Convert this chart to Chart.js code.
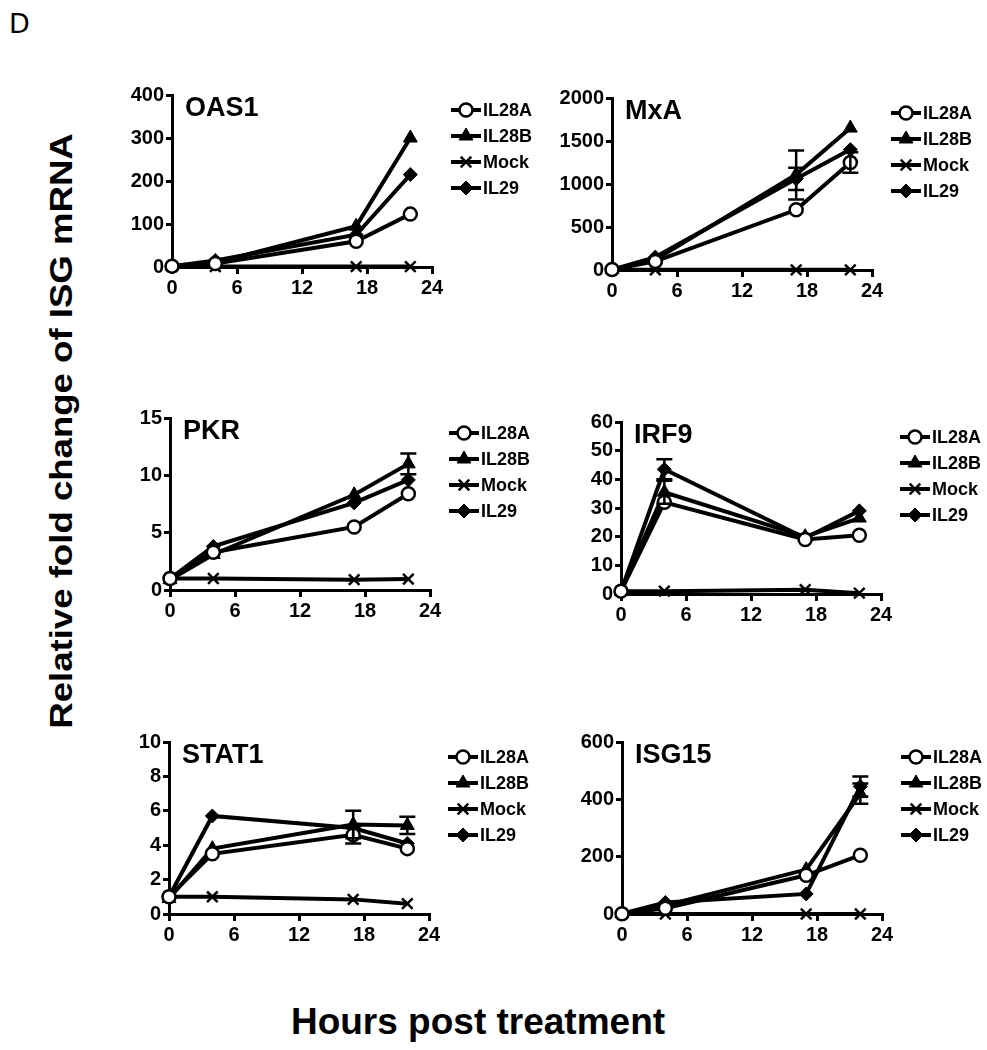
<!DOCTYPE html>
<html lang="en">
<head>
    <meta charset="UTF-8">
    <title>Relative fold change of ISG mRNA</title>
    <style>
        body {
            margin: 0;
            padding: 0;
            background: #ffffff;
            width: 987px;
            height: 1050px;
            position: relative;
            overflow: hidden;
            font-family: 'Liberation Sans', Arial, sans-serif;
            color: #000;
        }

        .panel {
            position: absolute;
            width: 420px;
            height: 222px;
        }

        .panel-letter {
            position: absolute;
            left: 9px;
            top: 8px;
            font-family: 'DejaVu Sans', sans-serif;
            font-size: 27px;
        }

        /* the original lettering is a bit stretched along the text */
        .y-title {
            position: absolute;
            left: 62px;
            top: 431px;
            transform: translate(-50%, -50%) rotate(-90deg) scaleX(1.18);
            white-space: nowrap;
            font-weight: bold;
            font-size: 31px;
        }

        .x-title {
            position: absolute;
            left: 478px;
            top: 1022px;
            transform: translate(-50%, -50%);
            white-space: nowrap;
            font-weight: bold;
            font-size: 37px;
        }
    </style>
</head>
<body>

<div class="panel-letter">D</div>
<div class="y-title">Relative fold change of ISG mRNA</div>
<div class="x-title">Hours post treatment</div>

<div class="panel" style="left:120px; top:80px;"><canvas id="oas1" width="420" height="222"></canvas></div>
<div class="panel" style="left:560px; top:83px;"><canvas id="mxa" width="420" height="222"></canvas></div>
<div class="panel" style="left:118px; top:403px;"><canvas id="pkr" width="420" height="222"></canvas></div>
<div class="panel" style="left:569px; top:407px;"><canvas id="irf9" width="420" height="222"></canvas></div>
<div class="panel" style="left:117px; top:727px;"><canvas id="stat1" width="420" height="222"></canvas></div>
<div class="panel" style="left:570px; top:727px;"><canvas id="isg15" width="420" height="222"></canvas></div>

<script src="https://cdn.jsdelivr.net/npm/chart.js"></script>

<script>
    // Time points (hours) and x ticks
    const hours = [0, 4, 17, 22];
    const xTicks = [0, 6, 12, 18, 24];
    const seriesNames = ['IL28A', 'IL28B', 'Mock', 'IL29'];

    // OAS1
    const oas1IL28A = [2, 8, 60, 123];
    const oas1IL28B = [2, 10, 95, 300];
    const oas1Mock = [1, 1, 1, 1];
    const oas1IL29 = [2, 15, 75, 215];
    const oas1Errors = [];

    // MxA
    const mxaIL28A = [5, 100, 700, 1250];
    const mxaIL28B = [5, 120, 1110, 1650];
    const mxaMock = [2, 2, 2, 2];
    const mxaIL29 = [5, 150, 1060, 1400];
    // [series, hour, low, high]
    const mxaErrors = [[1, 17, 820, 1390], [3, 17, 930, 1190], [0, 22, 1130, 1370]];

    // PKR
    const pkrIL28A = [1, 3.3, 5.5, 8.4];
    const pkrIL28B = [0.9, 3.1, 8.3, 11];
    const pkrMock = [1, 1, 0.9, 0.95];
    const pkrIL29 = [1, 3.8, 7.6, 9.6];
    const pkrErrors = [[1, 22, 10.1, 11.9]];

    // IRF9
    const irf9IL28A = [1, 32, 19, 20.5];
    const irf9IL28B = [1, 35.5, 20, 26.5];
    const irf9Mock = [1, 1, 1.5, 0.3];
    const irf9IL29 = [1, 43.5, 19.5, 29];
    const irf9Errors = [[3, 4, 40, 47], [1, 4, 31.5, 39.5]];

    // STAT1
    const stat1IL28A = [1, 3.5, 4.6, 3.8];
    const stat1IL28B = [0.9, 3.8, 5.2, 5.15];
    const stat1Mock = [1, 1, 0.85, 0.6];
    const stat1IL29 = [1, 5.7, 5.0, 4.1];
    const stat1Errors = [[1, 17, 4.4, 6.0], [0, 17, 4.1, 5.1], [1, 22, 4.65, 5.65]];

    // ISG15
    const isg15IL28A = [1, 20, 135, 205];
    const isg15IL28B = [1, 30, 155, 420];
    const isg15Mock = [0, 0, 0, 0];
    const isg15IL29 = [1, 40, 70, 445];
    const isg15Errors = [[3, 22, 410, 480], [1, 22, 385, 455]];

    const FONT = "'Liberation Sans', Arial, sans-serif";
    Chart.defaults.font.family = FONT;
    Chart.defaults.color = '#000';

    // Marker styles for each series
    const markerStyles = [
        { pointStyle: 'circle', radius: 6.5, fill: '#fff', border: 2.5 },
        { pointStyle: 'triangle', radius: 8, fill: '#000', border: 1 },
        { pointStyle: 'crossRot', radius: 7.5, fill: '#000', border: 2.5 },
        { pointStyle: 'rectRot', radius: 7, fill: '#000', border: 1 }
    ];

    // Legend drawn to the right of the plot: line with marker and label
    const legendPlugin = {
        id: 'sideLegend',
        afterDraw(chart) {
            const ctx = chart.ctx;
            const area = chart.chartArea;
            const lx = area.right + 19;
            const rows = [15, 41, 67, 93];
            ctx.save();
            seriesNames.forEach((name, i) => {
                const y = area.top + rows[i];
                const m = markerStyles[i];
                ctx.strokeStyle = '#000';
                ctx.lineWidth = 4;
                ctx.beginPath();
                ctx.moveTo(lx, y);
                ctx.lineTo(lx + 30, y);
                ctx.stroke();
                ctx.fillStyle = m.fill;
                ctx.lineWidth = m.border;
                Chart.helpers.drawPoint(ctx, { pointStyle: m.pointStyle, radius: m.radius, borderWidth: m.border }, lx + 15, y);
                ctx.fillStyle = '#000';
                ctx.font = 'bold 18px ' + FONT;
                ctx.textBaseline = 'middle';
                ctx.textAlign = 'left';
                ctx.fillText(name, lx + 32, y + 1);
            });
            ctx.restore();
        }
    };

    // Gene name inside the plot, top left
    const titlePlugin = {
        id: 'innerTitle',
        afterDraw(chart) {
            const ctx = chart.ctx;
            const area = chart.chartArea;
            ctx.save();
            ctx.fillStyle = '#000';
            ctx.font = 'bold 27px ' + FONT;
            ctx.textBaseline = 'middle';
            ctx.fillText(chart.options.plugins.innerTitle.text, area.left + 13, area.top + 14);
            ctx.restore();
        }
    };

    // Error bars (mean +/- SEM) with caps
    const errorBarPlugin = {
        id: 'errorBars',
        afterDatasetsDraw(chart) {
            const ctx = chart.ctx;
            const errs = chart.options.plugins.errorBars.list;
            const xs = chart.scales.x, ys = chart.scales.y;
            ctx.save();
            ctx.strokeStyle = '#000';
            ctx.lineWidth = 2.5;
            errs.forEach(e => {
                const px = xs.getPixelForValue(e[1]);
                const lo = ys.getPixelForValue(e[2]);
                const hi = ys.getPixelForValue(e[3]);
                ctx.beginPath();
                ctx.moveTo(px, lo);
                ctx.lineTo(px, hi);
                ctx.moveTo(px - 8, lo);
                ctx.lineTo(px + 8, lo);
                ctx.moveTo(px - 8, hi);
                ctx.lineTo(px + 8, hi);
                ctx.stroke();
            });
            ctx.restore();
        }
    };

    function makePanel(id, title, series, errors, yMax, yStep) {
        const datasets = series.map((vals, i) => {
            const m = markerStyles[i];
            return {
                label: seriesNames[i],
                data: hours.map((h, k) => ({ x: h, y: vals[k] })),
                borderColor: '#000',
                borderWidth: 4,
                pointStyle: m.pointStyle,
                pointRadius: m.radius,
                pointBackgroundColor: m.fill,
                pointBorderColor: '#000',
                pointBorderWidth: m.border,
                tension: 0,
                clip: false
            };
        });

        new Chart(document.getElementById(id), {
            type: 'line',
            data: { datasets: datasets },
            options: {
                responsive: false,
                animation: false,
                layout: { padding: { left: 0, top: 15, right: 108, bottom: 0 } },
                plugins: {
                    legend: { display: false },
                    tooltip: { enabled: false },
                    innerTitle: { text: title },
                    errorBars: { list: errors }
                },
                scales: {
                    x: {
                        type: 'linear',
                        min: 0,
                        max: 24,
                        afterBuildTicks: s => { s.ticks = xTicks.map(v => ({ value: v })); },
                        afterFit: s => { s.height = 35; },
                        ticks: { font: { size: 20, weight: 'bold' }, color: '#000', padding: 2, maxRotation: 0 },
                        grid: { drawOnChartArea: false, drawTicks: true, tickLength: 7, color: '#000', lineWidth: 3 },
                        border: { color: '#000', width: 3 }
                    },
                    y: {
                        min: 0,
                        max: yMax,
                        ticks: {
                            stepSize: yStep,
                            font: { size: 20, weight: 'bold' },
                            color: '#000',
                            padding: 2,
                            callback: v => String(v)
                        },
                        afterFit: s => { s.width = 52; },
                        grid: { drawOnChartArea: false, drawTicks: true, tickLength: 6, color: '#000', lineWidth: 3 },
                        border: { color: '#000', width: 3 }
                    }
                }
            },
            plugins: [errorBarPlugin, titlePlugin, legendPlugin]
        });
    }

    makePanel('oas1', 'OAS1', [oas1IL28A, oas1IL28B, oas1Mock, oas1IL29], oas1Errors, 400, 100);
    makePanel('mxa', 'MxA', [mxaIL28A, mxaIL28B, mxaMock, mxaIL29], mxaErrors, 2000, 500);
    makePanel('pkr', 'PKR', [pkrIL28A, pkrIL28B, pkrMock, pkrIL29], pkrErrors, 15, 5);
    makePanel('irf9', 'IRF9', [irf9IL28A, irf9IL28B, irf9Mock, irf9IL29], irf9Errors, 60, 10);
    makePanel('stat1', 'STAT1', [stat1IL28A, stat1IL28B, stat1Mock, stat1IL29], stat1Errors, 10, 2);
    makePanel('isg15', 'ISG15', [isg15IL28A, isg15IL28B, isg15Mock, isg15IL29], isg15Errors, 600, 200);
</script>

</body>
</html>
